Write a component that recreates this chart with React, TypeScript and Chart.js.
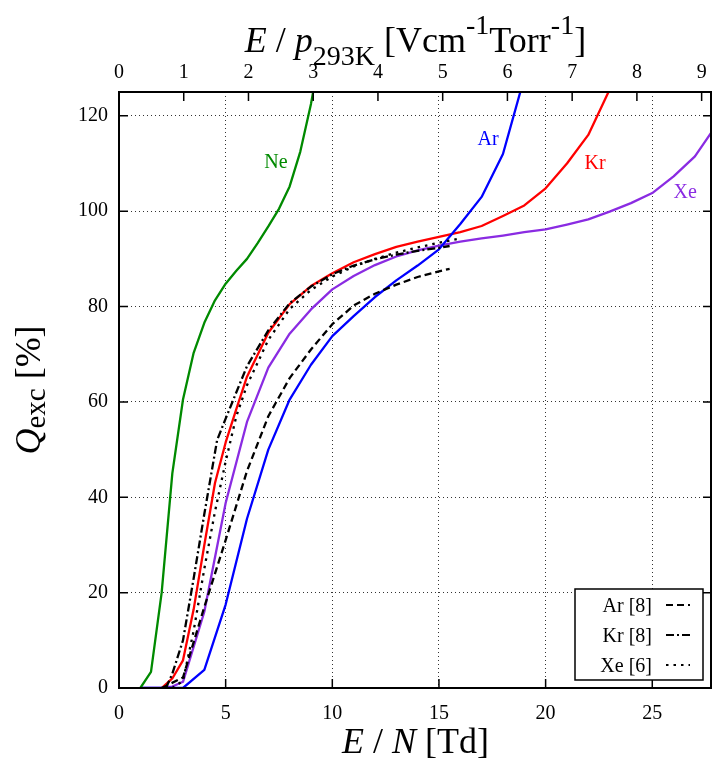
import React, { useEffect, useRef } from "react";
import { Chart, registerables } from "chart.js";
Chart.register(...registerables);

const SERIF = "'Liberation Serif', 'Times New Roman', Times, serif";

// ---- data (E/N in Td, Q_exc in %) ----
const NE_X = [1, 1.5, 2, 2.5, 3, 3.5, 4, 4.5, 5, 5.5, 6, 6.5, 7, 7.5, 8, 8.5, 9, 9.3];
const NE_Y = [0, 3.4, 20, 45, 60.5, 70.3, 76.6, 81.3, 84.8, 87.5, 90, 93.3, 96.8, 100.5, 105.2, 112.5, 122.5, 130];

const AR_X = [1, 2, 3, 4, 5, 6, 7, 8, 9, 10, 11, 12, 13, 14, 15, 16, 17, 18, 19];
const AR_Y = [0, 0, 0, 3.8, 17.5, 35.5, 50, 60.5, 67.8, 73.8, 78, 82, 85.5, 88.6, 92, 97.3, 103, 112, 128];

const KR_X = [2, 2.5, 3, 3.5, 4, 4.5, 5, 5.5, 6, 7, 8, 9, 10, 11, 12, 13, 14, 15, 16, 17, 18, 19, 20, 21, 22, 23];
const KR_Y = [0, 2, 5.8, 16.5, 30, 43, 51.5, 58.5, 65.3, 74.5, 80.5, 84.3, 87, 89.3, 91, 92.5, 93.6, 94.6, 95.6, 96.9, 99, 101.2, 104.8, 110, 116, 125.5];

const XE_X = [1, 2, 2.5, 3, 4, 5, 6, 7, 8, 9, 10, 11, 12, 13, 14, 15, 16, 17, 18, 19, 20, 21, 22, 23, 24, 25, 26, 27, 28];
const XE_Y = [0, 0, 0.3, 1.3, 16, 38.8, 55.8, 67.2, 74.3, 79.4, 83.6, 86.4, 88.7, 90.5, 91.8, 92.8, 93.6, 94.3, 94.9, 95.6, 96.2, 97.2, 98.3, 99.9, 101.7, 103.8, 107.3, 111.5, 118];

const AR8_X = [2, 3, 4, 5, 6, 7, 8, 9, 10, 11, 12, 13, 14, 15, 15.5];
const AR8_Y = [0, 2.2, 17, 31, 45.5, 57, 65, 71, 76.3, 80.2, 82.7, 84.6, 86.2, 87.4, 87.9];

const KR8_X = [2.2, 2.5, 3, 3.5, 4, 4.6, 5, 6, 7, 8, 9, 10, 11, 12, 13, 14, 15, 15.5];
const KR8_Y = [0, 3, 10, 23, 36.5, 52, 56.5, 67.5, 75, 80.7, 84.2, 86.8, 88.6, 89.9, 90.9, 91.7, 92.3, 92.7];

const XE6_X = [2.5, 3, 3.5, 4, 4.5, 5, 5.5, 6, 7, 8, 9, 10, 11, 12, 13, 14, 15, 16];
const XE6_Y = [0, 1.5, 12, 25, 37, 47.5, 57, 63.5, 73, 79.5, 83.5, 86.3, 88.4, 90, 91.3, 92.4, 93.4, 94.3];

// ---- axes ----
const X_MAX = 27.8;
const Y_MAX = 125;
const EP_PER_TD = 0.3295; // V cm^-1 Torr^-1 per Td at 293 K
const X_TICKS = [0, 5, 10, 15, 20, 25];
const Y_TICKS = [0, 20, 40, 60, 80, 100, 120];
const TOP_TICKS = [0, 1, 2, 3, 4, 5, 6, 7, 8, 9];

// ---- labels ----
const CURVE_LABELS = ["Ne", "Ar", "Kr", "Xe"];
const CURVE_LABEL_X = [7.36, 17.3, 22.32, 26.54];
const CURVE_LABEL_Y = [110.1, 114.9, 109.9, 103.8];
const CURVE_COLORS = ["#008a00", "#0000ff", "#ff0000", "#8a2be2"];
const LEGEND_LABELS = ["Ar [8]", "Kr [8]", "Xe [6]"];

const DASHED = [7, 4];
const DASHDOT = [8, 3, 2, 3];
const DOTTED = [2.5, 5];

const pts = (xs: number[], ys: number[]) => xs.map((x, i) => ({ x, y: ys[i] }));

type Run = { t: string; size: number; italic?: boolean; dy?: number };
const fontOf = (r: Run) => `${r.italic ? "italic " : ""}${r.size}px ${SERIF}`;
function drawRuns(ctx: CanvasRenderingContext2D, runs: Run[], cx: number, by: number) {
  let total = 0;
  const widths = runs.map((r) => {
    ctx.font = fontOf(r);
    const w = ctx.measureText(r.t).width;
    total += w;
    return w;
  });
  let x = cx - total / 2;
  ctx.textAlign = "left";
  ctx.textBaseline = "alphabetic";
  runs.forEach((r, i) => {
    ctx.font = fontOf(r);
    ctx.fillText(r.t, x, by + (r.dy || 0));
    x += widths[i];
  });
}

const noPad = (s: any) => {
  s.paddingLeft = 0;
  s.paddingRight = 0;
  s.paddingTop = 0;
  s.paddingBottom = 0;
};

const decorPlugin = {
  id: "decor",
  afterDraw(chart: any) {
    const ctx: CanvasRenderingContext2D = chart.ctx;
    const { left, right, top, bottom } = chart.chartArea;
    const sx = chart.scales.x;
    const sy = chart.scales.y;
    const sx2 = chart.scales.x2;
    ctx.save();
    ctx.strokeStyle = "#000";
    ctx.fillStyle = "#000";
    ctx.setLineDash([]);
    // inward tick marks
    ctx.lineWidth = 1.5;
    const TL = 9;
    ctx.beginPath();
    X_TICKS.forEach((v) => {
      const px = sx.getPixelForValue(v);
      ctx.moveTo(px, bottom);
      ctx.lineTo(px, bottom - TL);
    });
    TOP_TICKS.forEach((v) => {
      const px = sx2.getPixelForValue(v);
      ctx.moveTo(px, top);
      ctx.lineTo(px, top + TL);
    });
    Y_TICKS.forEach((v) => {
      const py = sy.getPixelForValue(v);
      ctx.moveTo(left, py);
      ctx.lineTo(left + TL, py);
      ctx.moveTo(right, py);
      ctx.lineTo(right - TL, py);
    });
    ctx.stroke();
    // frame
    ctx.lineWidth = 2;
    ctx.strokeRect(left, top, right - left - 1, bottom - top);

    // curve labels
    ctx.font = `20px ${SERIF}`;
    ctx.textAlign = "center";
    ctx.textBaseline = "middle";
    CURVE_LABELS.forEach((t, i) => {
      ctx.fillStyle = CURVE_COLORS[i];
      ctx.fillText(t, sx.getPixelForValue(CURVE_LABEL_X[i]), sy.getPixelForValue(CURVE_LABEL_Y[i]));
    });

    // legend box
    const bx1 = right - 9;
    const by2 = bottom - 8;
    const bx0 = bx1 - 128;
    const by0 = by2 - 91;
    ctx.fillStyle = "#fff";
    ctx.fillRect(bx0, by0, bx1 - bx0, by2 - by0);
    ctx.strokeStyle = "#000";
    ctx.lineWidth = 1.5;
    ctx.strokeRect(bx0, by0, bx1 - bx0, by2 - by0);
    const dashes = [DASHED, DASHDOT, DOTTED];
    LEGEND_LABELS.forEach((t, i) => {
      const base = by0 + 23 + i * 30;
      ctx.fillStyle = "#000";
      ctx.font = `20px ${SERIF}`;
      ctx.textAlign = "right";
      ctx.textBaseline = "alphabetic";
      ctx.fillText(t, bx0 + 77, base);
      ctx.setLineDash(dashes[i]);
      ctx.lineWidth = 2;
      ctx.beginPath();
      ctx.moveTo(bx0 + 91, base - 7);
      ctx.lineTo(bx0 + 115, base - 7);
      ctx.stroke();
    });
    ctx.setLineDash([]);

    // axis titles
    ctx.fillStyle = "#000";
    const cx = (left + right) / 2;
    drawRuns(
      ctx,
      [
        { t: "E", size: 36, italic: true },
        { t: " / ", size: 36 },
        { t: "N", size: 36, italic: true },
        { t: " [Td]", size: 36 },
      ],
      cx,
      753
    );
    drawRuns(
      ctx,
      [
        { t: "E", size: 36, italic: true },
        { t: " / ", size: 36 },
        { t: "p", size: 36, italic: true },
        { t: "293K", size: 28, dy: 13 },
        { t: " [Vcm", size: 36 },
        { t: "-1", size: 28, dy: -18 },
        { t: "Torr", size: 36 },
        { t: "-1", size: 28, dy: -18 },
        { t: "]", size: 36 },
      ],
      cx,
      52
    );
    ctx.save();
    ctx.translate(40, (top + bottom) / 2);
    ctx.rotate(-Math.PI / 2);
    drawRuns(
      ctx,
      [
        { t: "Q", size: 36, italic: true },
        { t: "exc", size: 29, dy: 5 },
        { t: " [%]", size: 36 },
      ],
      0,
      0
    );
    ctx.restore();
    ctx.restore();
  },
};

export default function App() {
  const ref = useRef<HTMLCanvasElement>(null);
  useEffect(() => {
    document.body.style.margin = "0";
    const canvas = ref.current!;
    const tickFont = { family: SERIF, size: 20 };
    const line = (label: string, xs: number[], ys: number[], color: string, dash: number[] = []) => ({
      label,
      data: pts(xs, ys),
      borderColor: color,
      backgroundColor: color,
      borderWidth: 2.3,
      borderDash: dash,
      pointRadius: 0,
      tension: 0,
      fill: false,
      borderJoinStyle: "round" as const,
    });
    const chart = new Chart(canvas, {
      type: "line",
      data: {
        datasets: [
          line("Ar [8]", AR8_X, AR8_Y, "#000", DASHED),
          line("Kr [8]", KR8_X, KR8_Y, "#000", DASHDOT),
          line("Xe [6]", XE6_X, XE6_Y, "#000", DOTTED),
          line("Ne", NE_X, NE_Y, CURVE_COLORS[0]),
          line("Ar", AR_X, AR_Y, CURVE_COLORS[1]),
          line("Kr", KR_X, KR_Y, CURVE_COLORS[2]),
          line("Xe", XE_X, XE_Y, CURVE_COLORS[3]),
        ],
      },
      options: {
        responsive: false,
        animation: false,
        devicePixelRatio: 1,
        layout: { padding: 0 },
        plugins: { legend: { display: false }, tooltip: { enabled: false } },
        scales: {
          x: {
            type: "linear",
            position: "bottom",
            min: 0,
            max: X_MAX,
            afterBuildTicks: (s: any) => {
              s.ticks = X_TICKS.map((v) => ({ value: v }));
            },
            afterFit: (s: any) => {
              s.height = 76;
              noPad(s);
            },
            ticks: { font: tickFont, color: "#000", padding: 14, maxRotation: 0, autoSkip: false },
            grid: { color: "rgba(0,0,0,0.8)", lineWidth: 1, drawTicks: false },
            border: { display: false, dash: [1, 3] },
          },
          x2: {
            type: "linear",
            axis: "x",
            position: "top",
            min: 0,
            max: X_MAX * EP_PER_TD,
            afterBuildTicks: (s: any) => {
              s.ticks = TOP_TICKS.map((v) => ({ value: v }));
            },
            afterFit: (s: any) => {
              s.height = 92;
              noPad(s);
            },
            ticks: { font: tickFont, color: "#000", padding: 7, maxRotation: 0, autoSkip: false },
            grid: { display: false, drawTicks: false },
            border: { display: false },
          },
          y: {
            type: "linear",
            min: 0,
            max: Y_MAX,
            afterBuildTicks: (s: any) => {
              s.ticks = Y_TICKS.map((v) => ({ value: v }));
            },
            afterFit: (s: any) => {
              s.width = 119;
              noPad(s);
            },
            ticks: { font: tickFont, color: "#000", padding: 11 },
            grid: { color: "rgba(0,0,0,0.8)", lineWidth: 1, drawTicks: false },
            border: { display: false, dash: [1, 3] },
          },
        },
      } as any,
      plugins: [decorPlugin],
    });
    return () => chart.destroy();
  }, []);
  return <canvas ref={ref} width={712} height={764} style={{ display: "block", width: 712, height: 764 }} />;
}
